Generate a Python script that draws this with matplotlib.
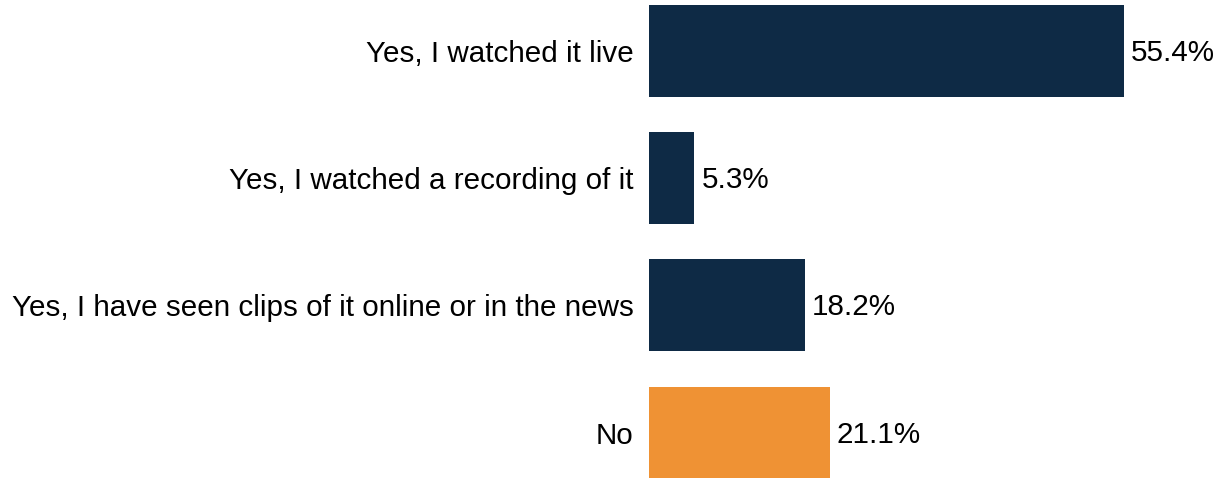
import matplotlib.pyplot as plt

plt.rcParams['font.family'] = 'Liberation Sans'

# Data
categories = ['Yes, I watched it live', 'Yes, I watched a recording of it',
              'Yes, I have seen clips of it online or in the news', 'No']
values = [55.4, 5.3, 18.2, 21.1]
colors = ['#0E2A45', '#0E2A45', '#0E2A45', '#EF9234']

fig = plt.figure(figsize=(12.19, 4.78), dpi=100)
ax = fig.add_axes([649 / 1219, 0, 570 / 1219, 1])

pos = list(range(len(categories)))
bars = ax.barh(pos, values, height=0.723, color=colors)

for bar, v in zip(bars, values):
    ax.annotate(f'{v:.1f}%', xy=(bar.get_width(), bar.get_y() + bar.get_height() / 2),
                xytext=(5, -1.5), textcoords='offset points',
                ha='left', va='center', fontsize=21.3, color='black')

ax.set_xlim(0, 66.5)
ax.set_ylim(3.357, -0.401)
ax.set_yticks(pos)
ax.set_yticklabels(categories, fontsize=21.3)
ax.tick_params(axis='y', length=0, pad=11)
ax.set_xticks([])

for s in ax.spines.values():
    s.set_visible(False)

plt.savefig('out.png', dpi=100)
